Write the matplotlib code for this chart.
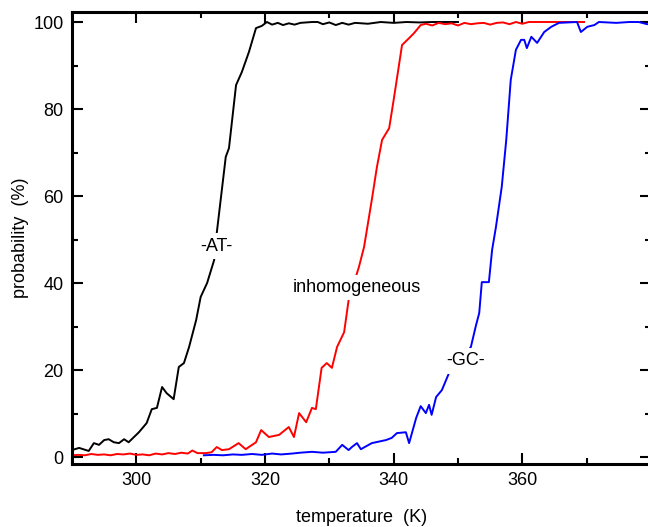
import numpy as np
import matplotlib.pyplot as plt
from matplotlib.ticker import MultipleLocator

plt.rcParams['font.family'] = ['Liberation Sans', 'DejaVu Sans']

# Data

at_temp = [290.0, 291.1, 292.6, 293.4, 294.2, 295.0, 295.7, 296.5, 297.3, 298.1,
           298.8, 300.4, 301.6, 302.4, 303.2, 304.0, 304.7, 305.8, 306.6, 307.4,
           308.2, 309.3, 310.0, 311.0, 312.1, 312.5, 313.9, 314.4, 315.5, 316.4,
           317.5, 318.6, 319.5, 320.3, 321.1, 322.0, 322.8, 323.7, 324.6, 325.5,
           326.4, 327.3, 328.2, 329.0, 330.0, 331.0, 332.0, 333.0, 334.0, 336.0,
           338.0, 340.0, 342.0, 344.0, 346.0, 348.0, 350.0]
at_prob = [1.6, 2.1, 1.4, 3.2, 2.8, 3.9, 4.1, 3.4, 3.2, 4.1,
           3.4, 5.7, 7.8, 11.0, 11.3, 16.1, 14.7, 13.3, 20.7, 21.6,
           25.3, 31.5, 36.8, 40.0, 45.3, 51.5, 69.0, 71.0, 85.5, 88.5,
           93.1, 98.6, 99.1, 100.0, 99.4, 99.8, 99.3, 99.7, 99.4, 99.8,
           99.9, 100.0, 100.0, 99.5, 99.9, 99.3, 99.8, 99.4, 99.8, 99.6,
           100.0, 99.8, 100.0, 99.9, 100.0, 100.0, 100.0]

inh_temp = [290.0, 291.0, 292.0, 293.0, 294.0, 295.0, 296.0, 297.0, 298.0, 299.0,
            300.0, 301.0, 302.0, 303.0, 304.0, 305.0, 306.0, 307.0, 308.0, 308.7,
            309.5, 310.8, 311.7, 312.5, 313.3, 314.4, 315.9, 317.0, 318.6, 319.4,
            320.6, 322.2, 323.7, 324.5, 325.3, 326.4, 327.3, 327.9, 328.8, 329.6,
            330.4, 331.2, 332.3, 333.0, 334.6, 335.4, 336.6, 337.4, 338.2, 339.3,
            340.0, 341.3, 342.4, 343.2, 344.2, 345.0, 346.0, 347.0, 348.0, 349.0,
            350.0, 351.0, 352.0, 353.0, 354.0, 355.0, 356.0, 357.0, 358.0, 359.0,
            360.0, 361.0, 362.0, 364.0, 366.0, 368.0, 369.6]
inh_prob = [0.4, 0.5, 0.4, 0.7, 0.5, 0.6, 0.4, 0.7, 0.6, 0.8,
            0.5, 0.6, 0.4, 0.8, 0.6, 0.9, 0.7, 1.0, 0.8, 1.5,
            0.9, 0.9, 1.1, 2.3, 1.6, 1.8, 3.2, 1.8, 3.4, 6.2,
            4.6, 5.1, 6.9, 4.6, 10.1, 8.0, 11.3, 11.0, 20.5, 21.6,
            20.5, 25.3, 28.7, 36.1, 43.7, 48.3, 59.1, 66.7, 72.9, 75.6,
            82.1, 94.7, 96.3, 97.5, 99.3, 99.6, 99.2, 99.8, 99.5, 99.7,
            99.2, 99.8, 99.5, 99.7, 99.8, 99.4, 99.8, 99.9, 99.5, 100.0,
            99.6, 100.0, 100.0, 100.0, 100.0, 100.0, 100.0]

gc_temp = [310.5, 312.0, 313.5, 315.0, 316.4, 318.0, 319.5, 321.1, 322.5, 324.2,
           325.5, 327.3, 329.0, 331.0, 332.0, 333.0, 333.5, 334.3, 334.9, 336.6,
           338.8, 339.7, 340.5, 341.9, 342.4, 343.5, 344.2, 345.0, 345.5, 345.9,
           346.6, 347.5, 348.6, 350.3, 352.0, 352.8, 353.3, 353.7, 354.8, 355.3,
           355.9, 356.8, 357.5, 358.2, 359.0, 359.8, 360.3, 360.7, 361.4, 362.3,
           363.4, 364.5, 365.7, 368.5, 369.1, 370.1, 371.2, 371.9, 374.6, 376.6,
           378.1, 379.4, 381.0]
gc_prob = [0.4, 0.5, 0.4, 0.6, 0.5, 0.7, 0.5, 0.8, 0.6, 0.8,
           1.0, 1.2, 1.0, 1.2, 2.8, 1.6, 2.3, 3.2, 1.8, 3.2,
           3.9, 4.4, 5.5, 5.7, 3.2, 9.0, 11.7, 10.1, 12.0, 9.7,
           13.8, 15.4, 19.3, 22.0, 25.3, 30.3, 33.1, 40.2, 40.2, 47.6,
           52.9, 62.1, 72.9, 86.7, 93.6, 95.9, 95.9, 94.0, 96.6, 95.2,
           97.7, 98.9, 99.8, 100.0, 97.7, 98.9, 99.3, 100.0, 99.8, 100.0,
           100.0, 99.5, 99.8]

x_ticks = [300, 320, 340, 360]

# Plotting

fig = plt.figure(figsize=(6.48, 5.27), dpi=100)
ax = fig.add_axes([72 / 648, 63 / 527, 579 / 648, 452 / 527])

ax.plot(at_temp, at_prob, color="black", lw=1.4)
ax.plot(inh_temp, inh_prob, color="#ff0000", lw=1.4)
ax.plot(gc_temp, gc_prob, color="#0000ff", lw=1.4)

box = dict(facecolor="white", edgecolor="none", pad=3)
ax.text(312.5, 48.5, "-AT-", fontsize=13, ha="center", va="center", bbox=box)
ax.text(334.3, 38.9, "inhomogeneous", fontsize=13, ha="center", va="center", bbox=box)
ax.text(351.1, 22.1, "-GC-", fontsize=13, ha="center", va="center", bbox=box)

ax.set_xlim(290, 380)
ax.set_ylim(-1.6, 102.3)
ax.set_xticks(x_ticks)
ax.xaxis.set_minor_locator(MultipleLocator(10))
ax.yaxis.set_major_locator(MultipleLocator(20))
ax.yaxis.set_minor_locator(MultipleLocator(10))
ax.tick_params(which="both", direction="in", top=True, right=True, width=1.5,
               labelsize=13, pad=6)
ax.tick_params(which="major", length=8)
ax.tick_params(which="minor", length=4.5)

for s in ax.spines.values():
    s.set_linewidth(2.2)

ax.set_xlabel("temperature  (K)", fontsize=13, labelpad=14)
ax.set_ylabel("probability  (%)", fontsize=13, labelpad=3)

plt.savefig("out.png", dpi=100)
